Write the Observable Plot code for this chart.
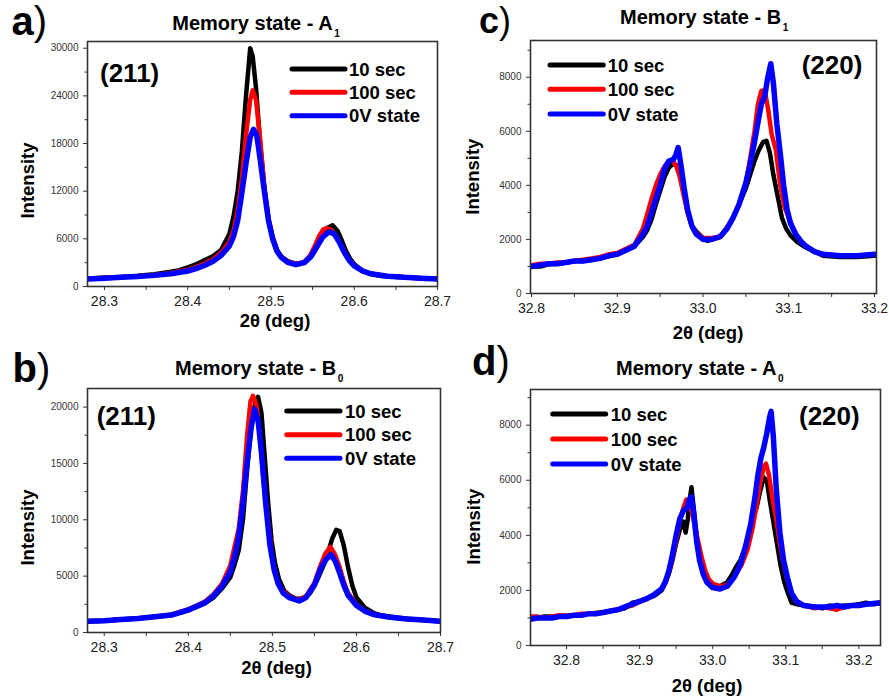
<!DOCTYPE html>
<html>
<head>
<meta charset="utf-8">
<script src="https://cdn.jsdelivr.net/npm/d3@7"></script>
<script src="https://cdn.jsdelivr.net/npm/@observablehq/plot@0.6"></script>
<style>
  html, body { margin: 0; padding: 0; background: #fff; }
  #root { position: relative; width: 889px; height: 698px; overflow: hidden; background: #fff; }
  #root > div { position: absolute; }
</style>
</head>
<body>
<div id="root"></div>
<script>
// ---------------- DATA ----------------
const seriesNames = ["10 sec", "100 sec", "0V state"];

// Panel a) Memory state - A1, (211)
const a_10sec = [[28.28,1000],[28.30,1100],[28.32,1200],[28.34,1350],[28.36,1550],[28.38,1850],[28.39,2050],[28.40,2400],[28.41,2800],[28.42,3300],[28.43,3800],[28.44,4600],[28.45,6600],[28.455,8800],[28.46,12000],[28.465,17000],[28.47,24000],[28.475,30000],[28.478,29000],[28.482,25000],[28.487,18000],[28.492,12500],[28.497,8500],[28.502,6200],[28.507,4600],[28.512,3800],[28.52,3200],[28.53,2850],[28.54,3000],[28.548,3700],[28.555,4900],[28.562,6500],[28.568,7400],[28.574,7700],[28.58,7000],[28.585,5800],[28.59,4500],[28.595,3500],[28.60,2800],[28.61,2000],[28.62,1600],[28.63,1350],[28.64,1250],[28.66,1150],[28.68,1050],[28.70,1000]];
const a_100sec = [[28.28,1000],[28.30,1100],[28.32,1200],[28.34,1300],[28.36,1450],[28.38,1700],[28.40,2100],[28.41,2450],[28.42,2900],[28.43,3400],[28.44,4200],[28.45,5600],[28.455,7000],[28.46,9500],[28.465,13500],[28.47,19000],[28.475,23500],[28.478,24700],[28.482,23500],[28.487,18500],[28.492,12500],[28.497,8500],[28.502,6200],[28.507,4600],[28.512,3800],[28.52,3150],[28.53,2850],[28.54,3100],[28.547,3900],[28.553,5200],[28.558,6400],[28.563,7200],[28.567,7350],[28.572,7100],[28.578,6400],[28.584,5300],[28.59,4000],[28.595,3200],[28.60,2600],[28.61,1950],[28.62,1600],[28.64,1300],[28.66,1150],[28.68,1050],[28.70,1000]];
const a_0V = [[28.28,950],[28.30,1050],[28.32,1150],[28.34,1250],[28.36,1400],[28.38,1600],[28.40,1950],[28.41,2250],[28.42,2650],[28.43,3150],[28.44,3900],[28.45,5100],[28.455,6300],[28.46,8300],[28.465,11800],[28.47,15500],[28.475,18800],[28.479,19800],[28.483,19000],[28.487,16000],[28.492,12000],[28.497,8300],[28.502,6000],[28.507,4500],[28.512,3700],[28.52,3050],[28.53,2750],[28.54,3000],[28.548,3800],[28.555,5000],[28.562,6200],[28.57,6900],[28.576,6600],[28.582,5600],[28.588,4300],[28.594,3300],[28.60,2600],[28.61,1950],[28.62,1600],[28.64,1300],[28.66,1150],[28.68,1050],[28.70,950]];

// Panel b) Memory state - B0, (211)
const b_10sec = [[28.28,1000],[28.30,1050],[28.32,1150],[28.34,1250],[28.36,1400],[28.38,1550],[28.40,1950],[28.42,2600],[28.43,3100],[28.44,3900],[28.45,4900],[28.455,6000],[28.46,7300],[28.465,10000],[28.47,14500],[28.475,18500],[28.48,20500],[28.483,20900],[28.487,19500],[28.491,15500],[28.495,11500],[28.499,8200],[28.503,6200],[28.508,4700],[28.514,3700],[28.52,3300],[28.528,3000],[28.536,3000],[28.545,3500],[28.553,4600],[28.56,5800],[28.566,7000],[28.571,8300],[28.576,9100],[28.58,9000],[28.585,7700],[28.59,5800],[28.595,4200],[28.60,3100],[28.61,2200],[28.62,1750],[28.63,1500],[28.65,1300],[28.67,1150],[28.70,1000]];
const b_100sec = [[28.28,1000],[28.30,1050],[28.32,1150],[28.34,1250],[28.36,1400],[28.38,1600],[28.40,2050],[28.42,2750],[28.43,3400],[28.44,4300],[28.45,5950],[28.455,7600],[28.46,9200],[28.465,12500],[28.47,17500],[28.474,20500],[28.477,21000],[28.481,20200],[28.485,17500],[28.49,13000],[28.495,9800],[28.50,6400],[28.505,4800],[28.51,3900],[28.52,3200],[28.53,2900],[28.54,3200],[28.55,4400],[28.557,5900],[28.563,7000],[28.569,7600],[28.574,7000],[28.58,5800],[28.585,4500],[28.59,3500],[28.60,2500],[28.61,1950],[28.62,1650],[28.64,1350],[28.66,1200],[28.68,1100],[28.70,1000]];
const b_0V = [[28.28,1000],[28.30,1050],[28.32,1150],[28.34,1250],[28.36,1400],[28.38,1550],[28.40,2000],[28.42,2650],[28.43,3250],[28.44,4100],[28.45,5400],[28.455,6700],[28.46,8500],[28.465,11500],[28.47,15100],[28.475,18300],[28.479,19800],[28.483,18800],[28.487,16000],[28.492,11500],[28.497,7800],[28.502,5600],[28.507,4300],[28.513,3500],[28.52,3100],[28.532,2800],[28.54,3100],[28.55,4200],[28.557,5600],[28.564,6500],[28.57,6900],[28.575,6300],[28.58,5300],[28.585,4200],[28.59,3300],[28.60,2400],[28.61,1900],[28.62,1600],[28.64,1350],[28.66,1200],[28.68,1100],[28.70,1000]];

// Panel c) Memory state - B1, (220)
const c_10sec = [[32.80,1000],[32.81,1000],[32.82,1080],[32.83,1100],[32.84,1150],[32.85,1200],[32.86,1200],[32.87,1250],[32.88,1300],[32.89,1380],[32.90,1450],[32.91,1600],[32.92,1750],[32.93,2100],[32.935,2350],[32.94,2750],[32.945,3300],[32.95,3800],[32.955,4300],[32.96,4650],[32.965,4800],[32.969,4750],[32.973,4400],[32.977,3800],[32.982,3000],[32.987,2500],[32.992,2300],[33.00,2050],[33.005,1950],[33.01,2000],[33.02,2100],[33.028,2400],[33.035,2800],[33.042,3300],[33.05,3900],[33.055,4400],[33.06,4900],[33.065,5300],[33.07,5600],[33.074,5650],[33.078,5200],[33.082,4400],[33.087,3600],[33.092,2800],[33.097,2400],[33.102,2150],[33.11,1900],[33.12,1700],[33.13,1550],[33.14,1400],[33.16,1350],[33.18,1350],[33.20,1400]];
const c_100sec = [[32.80,1050],[32.81,1100],[32.82,1100],[32.83,1150],[32.84,1150],[32.85,1200],[32.86,1250],[32.87,1300],[32.88,1350],[32.89,1450],[32.90,1500],[32.91,1650],[32.92,1800],[32.93,2400],[32.935,2950],[32.94,3500],[32.945,4000],[32.95,4400],[32.955,4700],[32.96,4900],[32.965,4900],[32.969,4700],[32.973,4300],[32.977,3700],[32.982,3000],[32.987,2500],[32.992,2250],[33.00,2050],[33.01,2050],[33.02,2100],[33.028,2450],[33.035,2800],[33.042,3300],[33.05,4100],[33.055,5000],[33.06,6000],[33.064,7000],[33.068,7500],[33.072,7500],[33.076,6800],[33.08,5900],[33.085,5300],[33.09,4000],[33.095,3200],[33.10,2800],[33.105,2400],[33.11,2100],[33.12,1750],[33.13,1550],[33.14,1450],[33.16,1400],[33.18,1400],[33.20,1450]];
const c_0V = [[32.80,1000],[32.81,1050],[32.82,1100],[32.83,1100],[32.84,1150],[32.85,1200],[32.86,1200],[32.87,1250],[32.88,1300],[32.89,1400],[32.90,1450],[32.91,1600],[32.92,1750],[32.93,2200],[32.935,2500],[32.94,3000],[32.945,3500],[32.95,4000],[32.955,4600],[32.96,4900],[32.965,4950],[32.968,5100],[32.971,5400],[32.974,4800],[32.978,3900],[32.982,3100],[32.987,2500],[32.992,2200],[33.00,2000],[33.01,2000],[33.02,2100],[33.028,2400],[33.035,2800],[33.042,3300],[33.05,4100],[33.055,4800],[33.06,5600],[33.065,6500],[33.068,7000],[33.072,7300],[33.075,7900],[33.079,8500],[33.082,7800],[33.086,6300],[33.09,5200],[33.094,4000],[33.098,3100],[33.102,2600],[33.108,2200],[33.115,1900],[33.12,1750],[33.13,1550],[33.14,1450],[33.16,1400],[33.18,1400],[33.20,1450]];

// Panel d) Memory state - A0, (220)
const d_10sec = [[32.75,1000],[32.76,1000],[32.77,1050],[32.78,1050],[32.79,1050],[32.80,1080],[32.81,1100],[32.82,1100],[32.83,1150],[32.84,1180],[32.85,1200],[32.86,1250],[32.87,1300],[32.88,1350],[32.89,1550],[32.90,1600],[32.91,1700],[32.92,1800],[32.93,2000],[32.935,2250],[32.94,2600],[32.945,3100],[32.95,3700],[32.955,4200],[32.96,4500],[32.963,4100],[32.966,4600],[32.968,5200],[32.971,5750],[32.974,5000],[32.978,4000],[32.982,3100],[32.987,2600],[32.992,2350],[33.00,2200],[33.01,2150],[33.02,2300],[33.027,2600],[33.032,2850],[33.038,3100],[33.045,3600],[33.05,4100],[33.055,4600],[33.06,5000],[33.065,5600],[33.07,6100],[33.074,6000],[33.078,5300],[33.083,4500],[33.088,3700],[33.093,2900],[33.098,2300],[33.103,1900],[33.108,1550],[33.115,1500],[33.125,1450],[33.14,1400],[33.15,1350],[33.16,1450],[33.17,1400],[33.18,1450],[33.19,1450],[33.20,1500],[33.21,1550],[33.22,1500],[33.23,1550]];
const d_100sec = [[32.75,1050],[32.76,1050],[32.77,1000],[32.78,1050],[32.79,1100],[32.80,1080],[32.81,1100],[32.82,1150],[32.83,1150],[32.84,1180],[32.85,1200],[32.86,1250],[32.87,1300],[32.88,1400],[32.89,1450],[32.90,1600],[32.91,1700],[32.92,1850],[32.93,2050],[32.935,2300],[32.94,2650],[32.945,3200],[32.95,3800],[32.955,4500],[32.96,5000],[32.964,5300],[32.968,5100],[32.972,4800],[32.976,4300],[32.98,3800],[32.985,3200],[32.99,2700],[32.995,2400],[33.00,2250],[33.01,2150],[33.02,2200],[33.03,2500],[33.04,2950],[33.048,3500],[33.055,4300],[33.06,5100],[33.065,5900],[33.07,6500],[33.073,6600],[33.077,6200],[33.082,5300],[33.087,4600],[33.092,3700],[33.097,3000],[33.102,2400],[33.108,1900],[33.115,1600],[33.125,1450],[33.14,1350],[33.15,1400],[33.16,1350],[33.17,1300],[33.18,1400],[33.19,1450],[33.20,1450],[33.21,1500],[33.23,1550]];
const d_0V = [[32.75,950],[32.76,1000],[32.77,1000],[32.78,1000],[32.79,1050],[32.80,1050],[32.81,1100],[32.82,1100],[32.83,1150],[32.84,1150],[32.85,1200],[32.86,1250],[32.87,1300],[32.88,1400],[32.89,1500],[32.90,1600],[32.91,1700],[32.92,1850],[32.93,2050],[32.935,2300],[32.94,2700],[32.945,3300],[32.95,4000],[32.955,4600],[32.96,4900],[32.965,5000],[32.968,5300],[32.971,5400],[32.974,4800],[32.978,3800],[32.982,3100],[32.987,2600],[32.992,2300],[33.00,2100],[33.01,2050],[33.02,2150],[33.03,2500],[33.038,2950],[33.045,3600],[33.052,4400],[33.058,5400],[33.062,6200],[33.066,6800],[33.07,7200],[33.074,7700],[33.078,8300],[33.08,8500],[33.083,7600],[33.087,5700],[33.092,4100],[33.097,3100],[33.102,2500],[33.108,1900],[33.115,1600],[33.125,1450],[33.14,1400],[33.15,1400],[33.16,1400],[33.17,1450],[33.18,1400],[33.19,1450],[33.20,1450],[33.21,1500],[33.23,1550]];

// Tick values
const aYTicks = [0, 6000, 12000, 18000, 24000, 30000];
const aYMinor = [3000, 9000, 15000, 21000, 27000];
const bYTicks = [0, 5000, 10000, 15000, 20000];
const bYMinor = [2500, 7500, 12500, 17500];
const cdYTicks = [0, 2000, 4000, 6000, 8000];
const cdYMinor = [1000, 3000, 5000, 7000, 9000];
const abXTicks = [28.3, 28.4, 28.5, 28.6, 28.7];
const abXMinor = [28.35, 28.45, 28.55, 28.65];
const cdXTicks = [32.8, 32.9, 33.0, 33.1, 33.2];
const cdXMinor = [32.85, 32.95, 33.05, 33.15];

// Text
const titles = {a: ["Memory state - A", "1"], b: ["Memory state - B", "0"], c: ["Memory state - B", "1"], d: ["Memory state - A", "0"]};
const hkl = {a: "(211)", b: "(211)", c: "(220)", d: "(220)"};
const xLabel = "2\u03B8 (deg)";
const yLabel = "Intensity";

// ---------------- STYLE / LAYOUT ----------------
const colors = ["#000000", "#ff0000", "#0000ff"];
const widths = [4.5, 4.5, 5.5];
const FONT = "'Liberation Sans', Arial, Helvetica, sans-serif";

const panels = [
  {id: "a", data: [a_10sec, a_100sec, a_0V], box: [0, 30, 455, 285], frame: {l: 87, r: 437, t: 41, b: 286},
   xDomain: [28.2796, 28.7], yDomain: [0, 30845], xTicks: abXTicks, xMinor: abXMinor, yTicks: aYTicks, yMinor: aYMinor,
   letter: [11.5, 34.5, 40], title: [172.3, 30], hkl: [100, 81.7], ylab: [33.5, 180.5], xlab: [275, 327.3],
   legend: {x1: 292, x2: 345, tx: 349, ys: [69, 92.3, 115.7]}},
  {id: "c", data: [c_10sec, c_100sec, c_0V], box: [445, 25, 444, 295], frame: {l: 530, r: 876, t: 40, b: 293},
   xDomain: [32.7988, 33.2023], yDomain: [0, 9359], xTicks: cdXTicks, xMinor: cdXMinor, yTicks: cdYTicks, yMinor: cdYMinor,
   letter: [479, 33, 36], title: [620, 24], hkl: [801.7, 74], ylab: [478.5, 176.7], xlab: [708, 339],
   legend: {x1: 550, x2: 603.3, tx: 607.7, ys: [65, 89.3, 114]}},
  {id: "b", data: [b_10sec, b_100sec, b_0V], box: [0, 375, 455, 285], frame: {l: 87, r: 440, t: 388, b: 632},
   xDomain: [28.2801, 28.7], yDomain: [0, 21646], xTicks: abXTicks, xMinor: abXMinor, yTicks: bYTicks, yMinor: bYMinor,
   letter: [12.5, 381.7, 40], title: [175, 375], hkl: [96.7, 425], ylab: [34, 527.5], xlab: [276.5, 674],
   legend: {x1: 286.7, x2: 340, tx: 345, ys: [411, 434.7, 458.3]}},
  {id: "d", data: [d_10sec, d_100sec, d_0V], box: [445, 375, 444, 300], frame: {l: 530, r: 880, t: 389, b: 645},
   xDomain: [32.7507, 33.2297], yDomain: [0, 9296], xTicks: cdXTicks, xMinor: cdXMinor, yTicks: cdYTicks, yMinor: cdYMinor,
   letter: [472, 375, 40], title: [616, 375], hkl: [799, 425], ylab: [479.5, 526.7], xlab: [707, 691.7],
   legend: {x1: 552.7, x2: 605.7, tx: 610.7, ys: [414, 439, 464]}}
];

// ---------------- DRAW ----------------
const root = document.getElementById("root");

for (const p of panels) {
  const [x0, y0, w, h] = p.box;
  const f = p.frame;
  const rows = p.data.map((arr, i) => arr.map(([x, y]) => ({x, y, s: seriesNames[i]})));
  const chart = Plot.plot({
    width: w, height: h,
    marginLeft: f.l - x0, marginRight: x0 + w - f.r,
    marginTop: f.t - y0, marginBottom: y0 + h - f.b,
    x: {domain: p.xDomain},
    y: {domain: p.yDomain},
    style: {fontFamily: FONT, background: "transparent", overflow: "visible", color: "#333"},
    marks: [
      Plot.axisY({ticks: p.yMinor, tickSize: 2.5, tickFormat: () => "", label: null, stroke: "#333"}),
      Plot.axisY({ticks: p.yTicks, tickSize: 4, tickPadding: 5, tickFormat: d3.format("d"), fontSize: 10, label: null, stroke: "#333", fill: "#333"}),
      Plot.axisX({ticks: p.xMinor, tickSize: 4, tickFormat: () => "", label: null, stroke: "#333"}),
      Plot.axisX({ticks: p.xTicks, tickSize: 4, tickPadding: 6, tickFormat: d3.format(".1f"), fontSize: 14, label: null, stroke: "#333", fill: "#222"}),
      ...rows.map((r, i) => Plot.line(r, {x: "x", y: "y", stroke: colors[i], strokeWidth: widths[i], strokeLinejoin: "round", strokeLinecap: "round", clip: true})),
      Plot.frame({stroke: "#333", strokeWidth: 1.6})
    ]
  });
  const holder = document.createElement("div");
  holder.style.left = x0 + "px";
  holder.style.top = y0 + "px";
  holder.appendChild(chart);
  root.appendChild(holder);
}

// Overlay for annotations: titles, panel letters, axis titles, legends
const ov = d3.select(root).append("div").style("left", "0px").style("top", "0px")
  .append("svg").attr("width", 889).attr("height", 698)
  .style("display", "block").style("font-family", FONT).style("overflow", "visible");

for (const p of panels) {
  // panel letter
  const L = ov.append("text").attr("x", p.letter[0]).attr("y", p.letter[1]).attr("font-size", p.letter[2]).attr("fill", "#000");
  L.append("tspan").attr("font-weight", "bold").text(p.id);
  L.append("tspan").attr("font-weight", "normal").text(")");

  // title with subscript
  const T = ov.append("text").attr("x", p.title[0]).attr("y", p.title[1]).attr("font-size", 20).attr("font-weight", "bold").attr("fill", "#000");
  T.append("tspan").text(titles[p.id][0]);
  T.append("tspan").attr("font-size", 10).attr("dx", 1.5).attr("dy", 7).text(titles[p.id][1]);

  // hkl
  ov.append("text").attr("x", p.hkl[0]).attr("y", p.hkl[1]).attr("font-size", 26).attr("font-weight", "bold").text(hkl[p.id]);

  // axis labels
  ov.append("text").attr("transform", `translate(${p.ylab[0]},${p.ylab[1]}) rotate(-90)`)
    .attr("text-anchor", "middle").attr("font-size", 18.5).attr("font-weight", "bold").text(yLabel);
  ov.append("text").attr("x", p.xlab[0]).attr("y", p.xlab[1]).attr("text-anchor", "middle")
    .attr("font-size", 18.5).attr("font-weight", "bold").text(xLabel);

  // legend
  seriesNames.forEach((name, i) => {
    const y = p.legend.ys[i];
    ov.append("line").attr("x1", p.legend.x1).attr("x2", p.legend.x2).attr("y1", y).attr("y2", y)
      .attr("stroke", colors[i]).attr("stroke-width", 5).attr("stroke-linecap", "round");
    ov.append("text").attr("x", p.legend.tx).attr("y", y + 6.7).attr("font-size", 18.5).attr("font-weight", "bold").text(name);
  });
}
</script>
</body>
</html>
